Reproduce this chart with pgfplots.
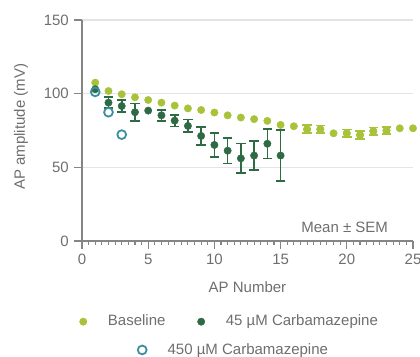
\documentclass[border=0pt]{standalone}
\usepackage{pgfplots}
\usepackage{pgfplotstable}
\pgfplotsset{compat=1.18}
\usepackage{fontspec}
\setmainfont{Liberation Sans}
\definecolor{base}{HTML}{A8C23A}
\definecolor{cfortyfive}{HTML}{2E6B45}
\definecolor{cfourfifty}{HTML}{3C8FA0}
\definecolor{txt}{HTML}{6E6E6E}
\definecolor{axc}{HTML}{858585}
\definecolor{gridc}{HTML}{E4E4E4}

\pgfplotstableread{
x y
1 107.5
2 101.8
3 99.6
4 97.5
5 95.7
6 93.9
7 91.9
8 90.0
9 88.9
10 87.2
11 85.3
12 83.8
13 82.7
14 81.5
15 78.8
16 77.9
17 75.8
18 75.8
19 73.1
20 73.1
21 72.0
22 74.5
23 74.9
24 76.5
25 76.5
}\tblBase

\pgfplotstableread{
x y e
17 75.8 2.7
18 75.8 2.5
20 73.1 2.5
21 72.0 2.7
22 74.5 2.5
23 74.9 2.5
}\tblBaseErr

\pgfplotstableread{
x y e
2 93.9 3.7
3 91.6 4.0
4 87.4 6.0
6 85.3 3.7
7 81.7 4.0
8 78.1 4.3
9 71.3 6.0
10 65.2 8.0
11 61.3 8.7
12 56.1 10.0
13 58.0 9.8
14 66.0 10.0
15 58.0 17.3
}\tblCarbErr

\pgfplotstableread{
x y
1 103.0
5 88.5
}\tblCarbNoErr

\pgfplotstableread{
x y
1 101.2
2 87.4
3 72.2
}\tblHigh

\pgfplotsset{
  dotleg/.style={legend image code/.code={\draw[##1] plot coordinates {(0pt,0pt)};}},
  ebar/.style={error bars/.cd, y dir=both, y explicit,
    error bar style={line width=1.7pt, #1},
    error mark options={rotate=90, mark size=4.7pt, line width=1.7pt, #1}},
}

\begin{document}
\fontsize{15}{18}\selectfont
\begin{tikzpicture}
\begin{axis}[
  at={(82pt,115pt)}, anchor=south west,
  width=331pt, height=221pt, scale only axis,
  xmin=0, xmax=25, ymin=0, ymax=150,
  axis lines*=left,
  axis line style={axc, line width=1.3pt},
  xtick={0,5,...,25}, ytick={0,50,100,150},
  minor xtick={0.5,1,...,24.5},
  tick align=outside,
  major tick length=8pt, minor tick length=3.5pt,
  major tick style={axc, line width=1.3pt},
  minor tick style={axc, line width=1.1pt},
  ymajorgrids, grid style={gridc, line width=1.3pt},
  ticklabel style={text=txt},
  /pgf/number format/assume math mode=true,
  xlabel={AP Number}, ylabel={AP amplitude (mV)},
  label style={text=txt},
  x label style={at={(axis description cs:0.5,-0.207)}, anchor=center},
  y label style={at={(axis description cs:-0.184,0.517)}, anchor=center},
  clip=false,
  legend columns=2,
  legend style={at={(-0.008,-0.365)}, anchor=west, draw=none, fill=none,
    inner sep=0pt, nodes={inner sep=0pt, text=txt},
    /tikz/every odd column/.append style={column sep=21pt},
    /tikz/every even column/.append style={column sep=32pt}},
]
\addplot[only marks, mark=*, mark size=3.7pt, color=base, dotleg] table[x=x,y=y] {\tblBase};
\addlegendentry{Baseline}
\addplot[forget plot, only marks, mark=*, mark size=3.7pt, color=base, ebar=base] table[x=x,y=y,y error=e] {\tblBaseErr};
\addplot[only marks, mark=*, mark size=3.7pt, color=cfortyfive, dotleg, ebar=cfortyfive] table[x=x,y=y,y error=e] {\tblCarbErr};
\addlegendentry{45 µM Carbamazepine}
\addplot[forget plot, only marks, mark=*, mark size=3.7pt, color=cfortyfive] table[x=x,y=y] {\tblCarbNoErr};
\addplot[forget plot, only marks, mark=o, mark size=4.4pt, color=cfourfifty, mark options={line width=1.8pt}] table[x=x,y=y] {\tblHigh};
\node[anchor=east, text=txt] at (rel axis cs:0.94,0.061) {Mean ± SEM};
\end{axis}
\begin{axis}[
  at={(82pt,115pt)}, anchor=south west,
  width=331pt, height=221pt, scale only axis,
  xmin=0, xmax=25, ymin=0, ymax=150,
  hide axis,
  legend style={at={(0.168,-0.493)}, anchor=west, draw=none, fill=none,
    inner sep=0pt, nodes={inner sep=0pt, text=txt},
    /tikz/every odd column/.append style={column sep=21pt}},
]
\addlegendimage{only marks, mark=o, mark size=4.4pt, color=cfourfifty, mark options={line width=1.8pt}, dotleg}
\addlegendentry{450 µM Carbamazepine}
\end{axis}
\pgfresetboundingbox
\useasboundingbox (0,0) rectangle (420pt,356pt);
\end{tikzpicture}
\end{document}
